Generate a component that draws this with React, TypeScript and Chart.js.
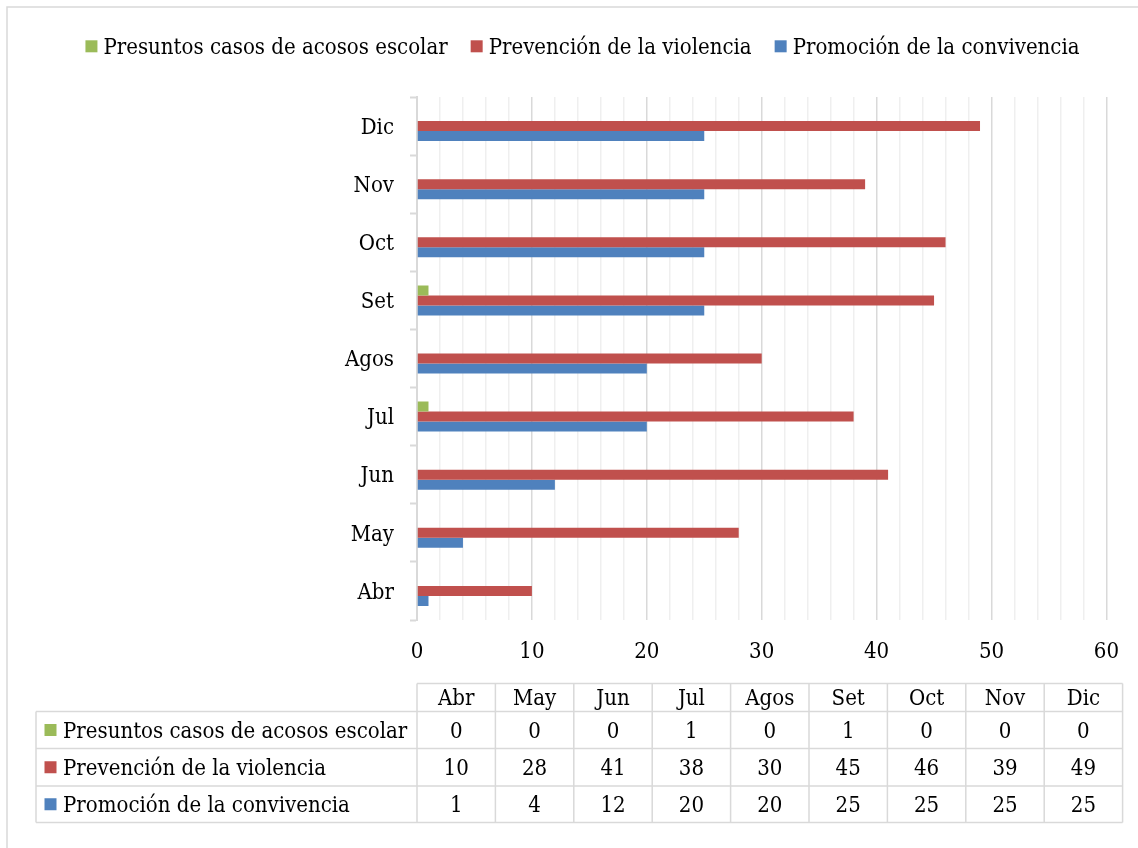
import React, { useEffect, useRef } from 'react';
import { Chart, registerables } from 'chart.js';

Chart.register(...registerables);

// ---- data ----
const months = ['Abr', 'May', 'Jun', 'Jul', 'Agos', 'Set', 'Oct', 'Nov', 'Dic'];
const seriesNames = [
  'Presuntos casos de acosos escolar',
  'Prevención de la violencia',
  'Promoción de la convivencia',
];
const acosoEscolar = [0, 0, 0, 1, 0, 1, 0, 0, 0];
const prevencionViolencia = [10, 28, 41, 38, 30, 45, 46, 39, 49];
const promocionConvivencia = [1, 4, 12, 20, 20, 25, 25, 25, 25];
const xTickLabels = [0, 10, 20, 30, 40, 50, 60];

// ---- styles ----
const seriesColors = ['#9BBB59', '#C0504D', '#4F81BD'];
const FONT_FAMILY = "'DejaVu Serif Condensed', 'DejaVu Serif', serif";
const FONT_SIZE = 22;
const FONT = `${FONT_SIZE}px ${FONT_FAMILY}`;
const TEXT_COLOR = '#000000';
const LINE_COLOR = '#d9d9d9';

const framePlugin = {
  id: 'frame',
  beforeDraw(chart: any) {
    const ctx = chart.ctx;
    ctx.save();
    ctx.fillStyle = '#ffffff';
    ctx.fillRect(0, 0, chart.width, chart.height);
    ctx.strokeStyle = LINE_COLOR;
    ctx.lineWidth = 1.5;
    ctx.strokeRect(7, 7, 1151, 2000);
    ctx.restore();
  },
};

const legendPlugin = {
  id: 'topLegend',
  afterDraw(chart: any) {
    const ctx = chart.ctx;
    const ds = chart.data.datasets;
    const box = 12;
    const gap = 6;
    const itemGap = 23;
    ctx.save();
    ctx.font = FONT;
    const widths = ds.map((d: any) => ctx.measureText(d.label).width);
    const total =
      widths.reduce((a: number, b: number) => a + b, 0) + ds.length * (box + gap) + (ds.length - 1) * itemGap;
    let x = 582.5 - total / 2;
    const cy = 46.3;
    ds.forEach((d: any, i: number) => {
      ctx.fillStyle = d.backgroundColor;
      ctx.fillRect(x, cy - box / 2, box, box);
      x += box + gap;
      ctx.fillStyle = TEXT_COLOR;
      ctx.textAlign = 'left';
      ctx.textBaseline = 'middle';
      ctx.fillText(d.label, x, cy + 1.5);
      x += widths[i] + itemGap;
    });
    ctx.restore();
  },
};

const tablePlugin = {
  id: 'dataTable',
  afterDraw(chart: any) {
    const ctx = chart.ctx;
    const labels: string[] = chart.data.labels;
    const ds = chart.data.datasets;
    const left = chart.chartArea.left;
    const colW = 78.4;
    const labelLeft = 36;
    const rows = [683.5, 711.5, 748.5, 786, 822.5];
    const n = labels.length;
    const right = left + colW * n;
    ctx.save();
    ctx.strokeStyle = LINE_COLOR;
    ctx.lineWidth = 1.5;
    ctx.beginPath();
    ctx.moveTo(left, rows[0]);
    ctx.lineTo(right, rows[0]);
    for (let r = 1; r < rows.length; r++) {
      ctx.moveTo(labelLeft, rows[r]);
      ctx.lineTo(right, rows[r]);
    }
    ctx.moveTo(labelLeft, rows[1]);
    ctx.lineTo(labelLeft, rows[rows.length - 1]);
    for (let c = 0; c <= n; c++) {
      const x = left + c * colW;
      ctx.moveTo(x, rows[0]);
      ctx.lineTo(x, rows[rows.length - 1]);
    }
    ctx.stroke();

    ctx.font = FONT;
    ctx.fillStyle = TEXT_COLOR;
    ctx.textBaseline = 'middle';
    ctx.textAlign = 'center';
    labels.forEach((l, i) => {
      ctx.fillText(l, left + colW * (i + 0.5), (rows[0] + rows[1]) / 2 + 2);
    });
    ds.forEach((d: any, r: number) => {
      const cy = (rows[r + 1] + rows[r + 2]) / 2;
      ctx.fillStyle = d.backgroundColor;
      ctx.fillRect(44.5, cy - 6, 12, 12);
      ctx.fillStyle = TEXT_COLOR;
      ctx.textAlign = 'left';
      ctx.fillText(d.label, 63, cy + 2);
      ctx.textAlign = 'center';
      d.data.forEach((v: number, i: number) => {
        ctx.fillText(String(v), left + colW * (i + 0.5), cy + 2);
      });
    });
    ctx.restore();
  },
};

export default function App() {
  const canvasRef = useRef<HTMLCanvasElement | null>(null);

  useEffect(() => {
    const canvas = canvasRef.current;
    if (!canvas) return;
    const values = [acosoEscolar, prevencionViolencia, promocionConvivencia];
    const chart = new Chart(canvas, {
      type: 'bar',
      data: {
        labels: months,
        datasets: seriesNames.map((name, i) => ({
          label: name,
          data: values[i],
          backgroundColor: seriesColors[i],
          borderWidth: 0,
          categoryPercentage: 0.516,
          barPercentage: 1,
        })),
      },
      options: {
        indexAxis: 'y',
        animation: false,
        responsive: false,
        devicePixelRatio: 1,
        layout: { padding: { top: 97, left: 0, right: 29, bottom: 168 } },
        plugins: {
          legend: { display: false },
          tooltip: { enabled: false },
          title: { display: false },
        },
        scales: {
          x: {
            type: 'linear',
            min: 0,
            max: 60,
            afterFit: (scale: any) => {
              scale.height = 60;
            },
            ticks: {
              stepSize: 2,
              autoSkip: false,
              maxRotation: 0,
              padding: 19,
              color: TEXT_COLOR,
              font: { family: FONT_FAMILY, size: FONT_SIZE },
              callback: (v: any) => (xTickLabels.includes(Number(v)) ? String(v) : ''),
            },
            grid: {
              drawTicks: false,
              lineWidth: 1.5,
              color: (c: any) =>
                c.tick && xTickLabels.includes(Number(c.tick.value)) ? '#d9d9d9' : '#efefef',
            },
            border: { display: false },
          },
          y: {
            type: 'category',
            reverse: true,
            offset: true,
            afterFit: (scale: any) => {
              scale.width = 417;
            },
            ticks: {
              padding: 16,
              labelOffset: 2,
              color: TEXT_COLOR,
              font: { family: FONT_FAMILY, size: FONT_SIZE },
            },
            grid: {
              offset: true,
              drawOnChartArea: false,
              drawTicks: true,
              tickLength: 7,
              tickWidth: 2,
              tickColor: LINE_COLOR,
              color: LINE_COLOR,
            },
            border: { display: true, color: LINE_COLOR, width: 2 },
          },
        },
      },
      plugins: [framePlugin, legendPlugin, tablePlugin],
    } as any);
    return () => chart.destroy();
  }, []);

  return (
    <div style={{ position: 'fixed', left: 0, top: 0, width: 1138, height: 848 }}>
      <canvas ref={canvasRef} width={1138} height={848} style={{ display: 'block' }} />
    </div>
  );
}
